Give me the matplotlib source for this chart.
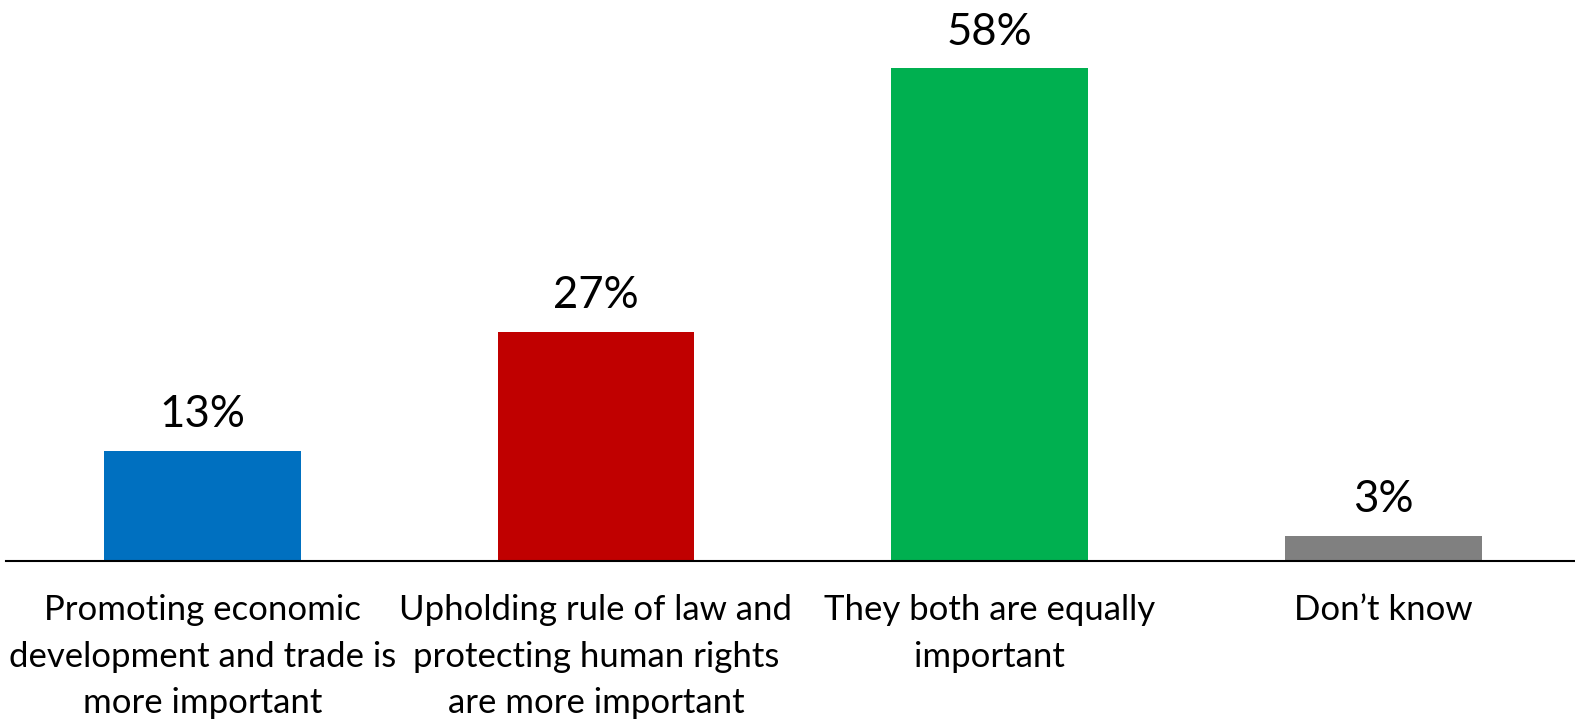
import matplotlib
matplotlib.use("Agg")
import matplotlib.pyplot as plt

categories = [
    "Promoting economic\ndevelopment and trade is\nmore important",
    "Upholding rule of law and\nprotecting human rights\nare more important",
    "They both are equally\nimportant",
    "Don\u2019t know",
]
values = [13, 27, 58, 3]
value_labels = ["13%", "27%", "58%", "3%"]
colors = ["#0070C0", "#C00000", "#00B050", "#808080"]

W, H = 1575, 721
fig = plt.figure(figsize=(W / 100, H / 100), dpi=100)
plt.rcParams['font.family'] = ['Lato', 'DejaVu Sans']

ax_left = 5.5 / W
ax_right = 1580 / W
ax_bottom = (H - 561) / H
ax_top = (H - (561 - 60 * 8.5)) / H
ax = fig.add_axes([ax_left, ax_bottom, ax_right - ax_left, ax_top - ax_bottom])

x = list(range(len(categories)))
ax.bar(x, values, width=0.5, color=colors)
ax.set_xlim(-0.5, 3.5)
ax.set_ylim(0, 60)

for xi, v, lab in zip(x, values, value_labels):
    ax.annotate(lab, (xi, v), xytext=(0, 11), textcoords="offset points",
                ha="center", va="bottom", fontsize=31.5, color="black")

ax.set_xticks(x)
ax.set_xticklabels(categories, fontsize=25, linespacing=1.55, va="top")
ax.tick_params(axis="x", length=0, pad=24)
ax.set_yticks([])
for s in ["top", "right", "left"]:
    ax.spines[s].set_visible(False)
ax.spines["bottom"].set_linewidth(1.5)
ax.spines["bottom"].set_color("black")

fig.savefig("out.png", dpi=100)
